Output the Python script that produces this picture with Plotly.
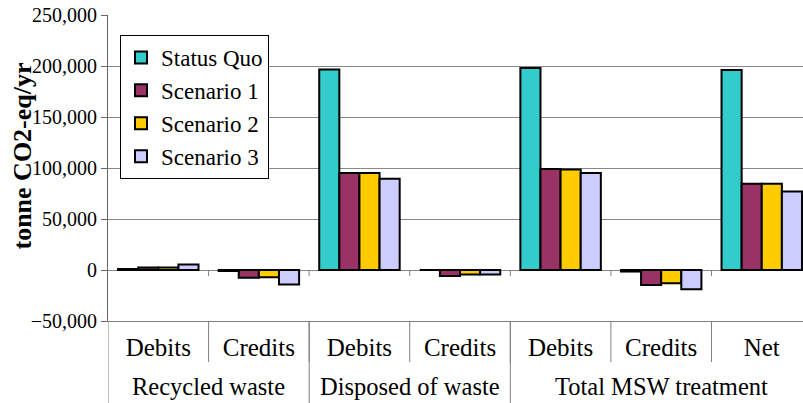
import plotly.graph_objects as go

groups = ["Recycled waste", "Disposed of waste", "Total MSW treatment"]
group_sizes = [2, 2, 3]
subcats = ["Debits", "Credits", "Debits", "Credits", "Debits", "Credits", "Net"]

series_names = ["Status Quo", "Scenario 1", "Scenario 2", "Scenario 3"]
status_quo = [1000, -1000, 196500, 0, 198000, -1500, 196000]
scenario1 = [2500, -7500, 95000, -6000, 99000, -14800, 84500]
scenario2 = [2500, -7000, 95000, -4500, 98500, -13000, 84500]
scenario3 = [5500, -14200, 89500, -4500, 95000, -18800, 77000]
series_values = [status_quo, scenario1, scenario2, scenario3]
colors = ["#33CCCC", "#993366", "#FFCC00", "#CCCCFF"]
y_title = "tonne CO2-eq/yr"

FONT = "Liberation Serif"
W, H = 803, 403
ML, MR, MT, MB = 108, 0, 15, 82
plot_h = H - MT - MB
plot_w = W - ML - MR

xpos = list(range(len(subcats)))

fig = go.Figure()
for name, vals, col in zip(series_names, series_values, colors):
    fig.add_trace(go.Bar(
        x=xpos, y=vals, name=name, legendgroup=name,
        marker=dict(color=col, line=dict(color="black", width=2)),
    ))

shapes = []
# subcategory separators (boundaries between categories)
for i in range(len(subcats) - 1):
    b = i + 0.5
    shapes.append(dict(type="line", xref="x", yref="paper", x0=b, x1=b,
                       y0=0, y1=-41 / plot_h, line=dict(color="#808080", width=1)))
    shapes.append(dict(type="line", xref="x", yref="y", x0=b, x1=b,
                       ysizemode="pixel", yanchor=0, y0=0, y1=-6,
                       line=dict(color="#808080", width=1)))
# group dividers and group labels
start = 0
annotations = []
for g, n in zip(groups, group_sizes):
    b = start - 0.5
    shapes.append(dict(type="line", xref="x", yref="paper", x0=b, x1=b,
                       y0=0, y1=-0.3, line=dict(color="#808080", width=1)))
    annotations.append(dict(text=g, xref="x", yref="paper", x=start + (n - 1) / 2,
                            y=-(386 - (H - MB)) / plot_h, yanchor="middle",
                            showarrow=False, font=dict(family=FONT, size=24.5, color="black")))
    start += n

# y-axis title
annotations.append(dict(text="<b>" + y_title + "</b>", xref="paper", yref="paper",
                        x=(22 - ML) / plot_w, y=((H - MB) - 156.5) / plot_h,
                        xanchor="center", yanchor="middle", textangle=-90,
                        showarrow=False, font=dict(family=FONT, size=26, color="black")))

fig.update_layout(
    template="none",
    width=W, height=H,
    margin=dict(l=ML, r=MR, t=MT, b=MB, pad=0),
    paper_bgcolor="white", plot_bgcolor="white",
    barmode="group", bargap=0.2, bargroupgap=0,
    font=dict(family=FONT, size=20, color="black"),
    showlegend=True,
    legend=dict(
        x=(120 - ML) / plot_w, y=(H - MB - 35) / plot_h,
        xanchor="left", yanchor="top",
        bordercolor="black", borderwidth=1, bgcolor="white",
        font=dict(family=FONT, size=23, color="black"),
        traceorder="grouped", tracegroupgap=0,
    ),
    shapes=shapes, annotations=annotations,
    xaxis=dict(
        range=[-0.5, 6.41], tickmode="array", tickvals=xpos, ticktext=subcats,
        ticks="", showgrid=False, zeroline=False,
        showline=True, linecolor="#808080", linewidth=1,
        tickfont=dict(family=FONT, size=25, color="black"),
        ticklabelstandoff=4,
    ),
    yaxis=dict(
        range=[-50000, 250000], dtick=50000, tickformat=",d",
        showgrid=True, gridcolor="#888888", gridwidth=1,
        zeroline=True, zerolinecolor="#888888", zerolinewidth=1,
        showline=True, linecolor="#666666", linewidth=1,
        ticks="outside", ticklen=6, tickcolor="#666666",
        tickfont=dict(family=FONT, size=20, color="black"),
    ),
)

fig.write_html("out.html")
